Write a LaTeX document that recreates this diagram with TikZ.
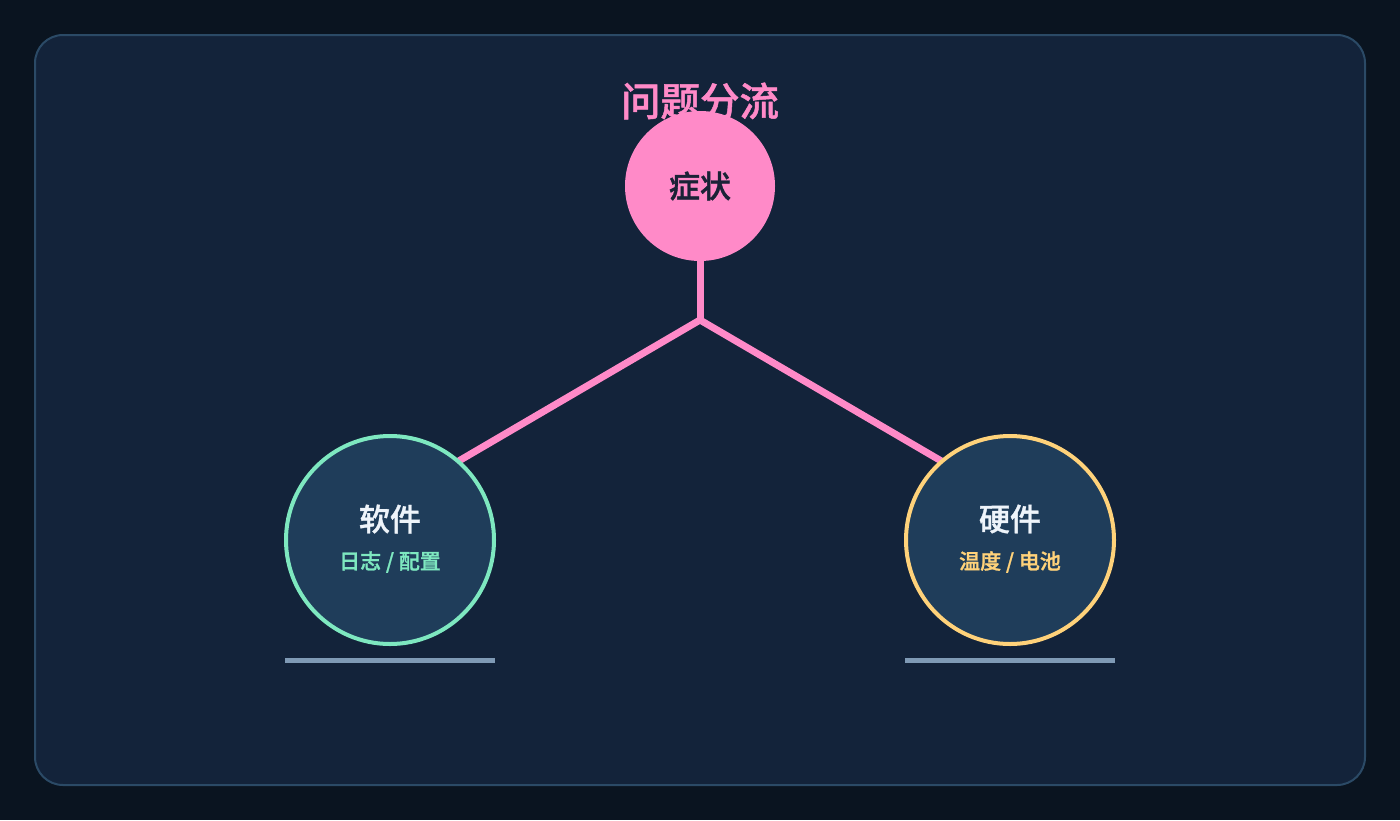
\documentclass[tikz,border=0pt]{standalone}
\usepackage{fontspec}
\newfontfamily\cjk[FakeBold=1.2]{Noto Sans CJK SC Medium}
\definecolor{bgout}{HTML}{0A1420}
\definecolor{panel}{HTML}{13233A}
\definecolor{panelline}{HTML}{2B4A66}
\definecolor{pinkc}{HTML}{FF8AC8}
\definecolor{darktxt}{HTML}{1A2236}
\definecolor{nodefill}{HTML}{1F3D5A}
\definecolor{mint}{HTML}{7EE8C0}
\definecolor{gold}{HTML}{FFD27A}
\definecolor{barc}{HTML}{7F9AB5}
\definecolor{whitetxt}{HTML}{EEF4FA}
\tikzset{
  branch/.style={draw=pinkc, line width=7pt},
  catnode/.style={circle, minimum size=208pt, inner sep=0pt, fill=nodefill, line width=4pt},
  bar/.style={draw=barc, line width=5pt},
  cattitle/.style={font=\cjk\fontsize{31}{36}\selectfont, text=whitetxt},
  catsub/.style={font=\cjk\fontsize{21}{25}\selectfont},
}
\begin{document}
\begin{tikzpicture}[x=1pt,y=-1pt]
\useasboundingbox (0,0) rectangle (1400,820);
\fill[bgout] (0,0) rectangle (1400,820);
\draw[panelline, line width=2pt, fill=panel, rounded corners=28pt] (35,35) rectangle (1365,785);
\node[font=\cjk\fontsize{39.5}{45}\selectfont, text=pinkc] (title) at (700,101) {问题分流};
\coordinate (j) at (700,320);
\coordinate (lend) at (445,469);
\coordinate (rend) at (955,469);
\coordinate (topbot) at (700,250);
\draw[branch] (topbot) -- (j);
\draw[branch] (j) -- (lend);
\draw[branch] (j) -- (rend);
\node[circle, minimum size=150pt, inner sep=0pt, fill=pinkc, font=\cjk\fontsize{31}{36}\selectfont, text=darktxt] (sym) at (700,186) {症状};
\node[catnode, draw=mint] (soft) at (390,540) {};
\node[catnode, draw=gold] (hard) at (1010,540) {};
\node[cattitle] (softt) at (390,519) {软件};
\node[catsub, text=mint] (softs) at (390,562) {日志 / 配置};
\node[cattitle] (hardt) at (1010,519) {硬件};
\node[catsub, text=gold] (hards) at (1010,562) {温度 / 电池};
\coordinate (lb1) at (285,660);
\coordinate (lb2) at (495,660);
\coordinate (rb1) at (905,660);
\coordinate (rb2) at (1115,660);
\draw[bar] (lb1) -- (lb2);
\draw[bar] (rb1) -- (rb2);
\end{tikzpicture}
\end{document}
